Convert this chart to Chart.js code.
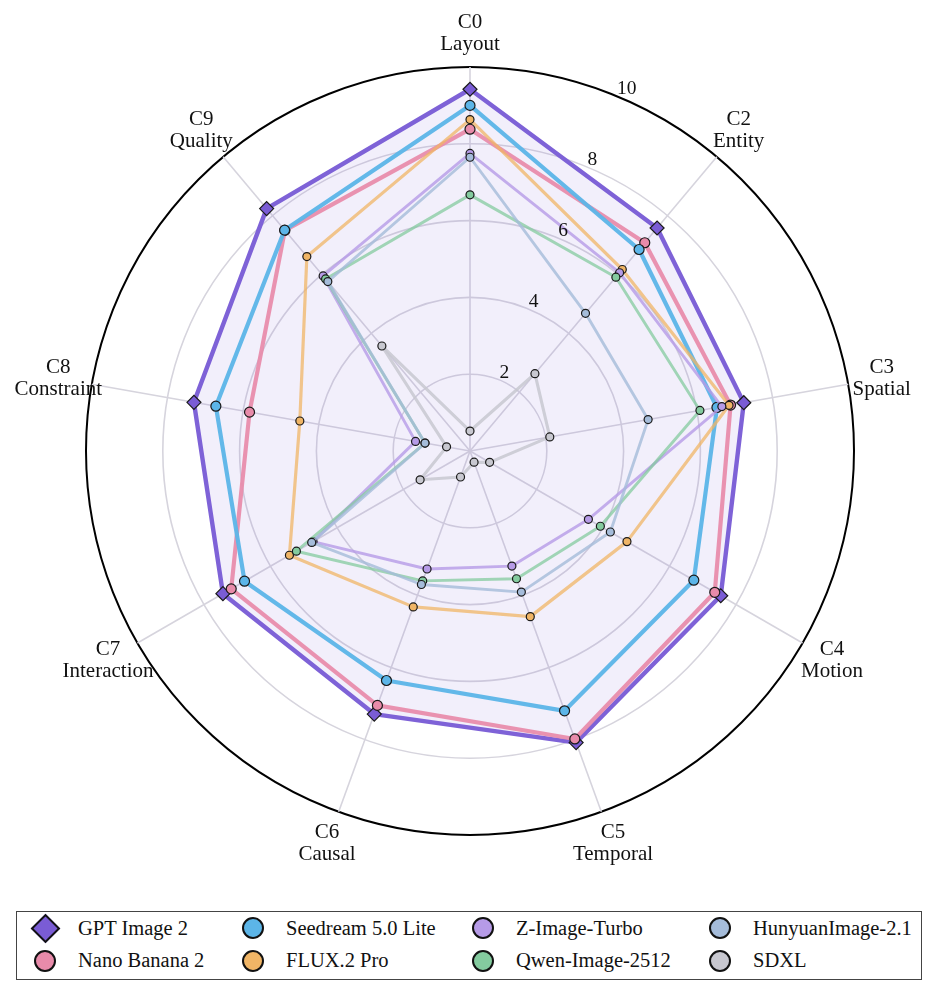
<!DOCTYPE html>
<html>
<head>
<meta charset="utf-8">
<script src="https://cdn.jsdelivr.net/npm/chart.js@4.4.1/dist/chart.umd.min.js"></script>
<style>
  body { margin: 0; background: #fff; font-family: "Liberation Serif", "Times New Roman", serif; }
  #wrap { position: relative; width: 938px; height: 996px; }
  #chart-box { position: absolute; left: 0; top: 0; width: 938px; height: 900px; }
  #legend {
    position: absolute; left: 16px; top: 911px; width: 906px; height: 69px;
    box-sizing: border-box; border: 1.5px solid #444; padding-left: 16px;
    display: grid; grid-auto-flow: column;
    grid-template-rows: repeat(2, 32.5px);
    grid-template-columns: 208px 230px 237px 1fr;
  }
  .item { display: flex; align-items: center; font-size: 20.5px; color: #111; white-space: nowrap; }
  .mk { width: 24px; height: 24px; margin-right: 21px; position: relative; flex: none; }
  .mk span { position: absolute; box-sizing: border-box; border: 2px solid #111; }
  .mk .circle { left: 1px; top: 1px; width: 22px; height: 22px; border-radius: 50%; }
  .mk .diamond { left: 1.5px; top: 1.5px; width: 21px; height: 21px; transform: rotate(45deg); }
</style>
</head>
<body>
<div id="wrap">
  <div id="chart-box"><canvas id="radar"></canvas></div>
  <div id="legend"></div>
</div>
<script>
const categoryCodes = ["C0", "C2", "C3", "C4", "C5", "C6", "C7", "C8", "C9"];
const categoryNames = ["Layout", "Entity", "Spatial", "Motion", "Temporal", "Causal", "Interaction", "Constraint", "Quality"];
const tickValues = [2, 4, 6, 8, 10];

const gptImage2 = [9.42, 7.58, 7.24, 7.54, 8.08, 7.29, 7.43, 7.30, 8.24];
const nanoBanana2 = [8.38, 7.08, 6.89, 7.36, 7.98, 7.05, 7.18, 5.83, 7.50];
const seedream50Lite = [9.00, 6.85, 6.53, 6.73, 7.20, 6.36, 6.78, 6.72, 7.51];
const flux2Pro = [8.63, 6.17, 6.85, 4.72, 4.59, 4.32, 5.43, 4.50, 6.61];
const zImageTurbo = [7.75, 6.06, 6.66, 3.56, 3.19, 3.27, 4.72, 1.44, 5.95];
const qwenImage2512 = [6.67, 5.91, 6.08, 3.92, 3.54, 3.60, 5.22, 1.19, 5.85];
const hunyuanImage21 = [7.65, 4.68, 4.71, 4.22, 3.91, 3.70, 4.76, 1.19, 5.76];
const sdxl = [0.52, 2.63, 2.11, 0.59, 0.31, 0.72, 1.50, 0.62, 3.57];

// legend order (column major), later entries are drawn on top
const models = [
  { name: "GPT Image 2", data: gptImage2, color: "#7a5cd5", line: "#7e62d7", width: 4.4, marker: "rectRot", size: 7, fill: true },
  { name: "Nano Banana 2", data: nanoBanana2, color: "#e88baa", line: "rgba(232,139,170,0.92)", width: 4.2, marker: "circle", size: 5 },
  { name: "Seedream 5.0 Lite", data: seedream50Lite, color: "#5cb5e8", line: "rgba(92,181,232,0.95)", width: 4.2, marker: "circle", size: 5 },
  { name: "FLUX.2 Pro", data: flux2Pro, color: "#f0b566", line: "rgba(240,181,102,0.75)", width: 3.2, marker: "circle", size: 4 },
  { name: "Z-Image-Turbo", data: zImageTurbo, color: "#b69be7", line: "rgba(182,155,231,0.8)", width: 2.9, marker: "circle", size: 4 },
  { name: "Qwen-Image-2512", data: qwenImage2512, color: "#84cb9f", line: "rgba(132,203,159,0.75)", width: 2.9, marker: "circle", size: 4 },
  { name: "HunyuanImage-2.1", data: hunyuanImage21, color: "#a5bcda", line: "rgba(165,188,218,0.8)", width: 2.9, marker: "circle", size: 4 },
  { name: "SDXL", data: sdxl, color: "#c8c8d0", line: "rgba(200,200,208,0.85)", width: 3.1, marker: "circle", size: 4 },
];

const GRID_COLOR = "#d6d4dd";
const FONT = "'Liberation Serif', 'Times New Roman', serif";

const labelsPlugin = {
  id: "polarLabels",
  afterDraw(chart) {
    const s = chart.scales.r;
    const ctx = chart.ctx;
    ctx.save();
    ctx.fillStyle = "#111";

    // category labels, two lines centred outside the rim
    ctx.font = "21px " + FONT;
    ctx.textAlign = "center";
    ctx.textBaseline = "middle";
    categoryCodes.forEach((code, i) => {
      const p = s.getPointPosition(i, s.drawingArea + 34);
      ctx.fillText(code, p.x, p.y - 11);
      ctx.fillText(categoryNames[i], p.x, p.y + 11);
    });

    // radial tick labels along 22.5 deg
    ctx.font = "19.5px " + FONT;
    ctx.textAlign = "left";
    ctx.textBaseline = "alphabetic";
    const ang = -Math.PI / 2 + (22.5 * Math.PI) / 180;
    tickValues.forEach((v) => {
      const d = s.getDistanceFromCenterForValue(v);
      ctx.fillText(String(v), s.xCenter + d * Math.cos(ang), s.yCenter + d * Math.sin(ang) - 2);
    });
    ctx.restore();
  },
};

const datasets = models.map((m, i) => ({
  label: m.name,
  data: m.data,
  order: models.length - i,
  borderColor: m.line,
  borderWidth: m.width,
  borderJoinStyle: "round",
  backgroundColor: m.fill ? "rgba(123,97,212,0.1)" : "transparent",
  fill: m.fill ? "origin" : false,
  pointStyle: m.marker,
  pointRadius: m.size,
  pointHoverRadius: m.size,
  pointBackgroundColor: m.color,
  pointBorderColor: "#1a1a1a",
  pointBorderWidth: 1.2,
  tension: 0,
}));

new Chart(document.getElementById("radar"), {
  type: "radar",
  data: { labels: categoryCodes, datasets },
  options: {
    animation: false,
    responsive: true,
    maintainAspectRatio: false,
    layout: { padding: { left: 86, right: 84, top: 67, bottom: 65 } },
    plugins: { legend: { display: false }, tooltip: { enabled: false } },
    scales: {
      r: {
        min: 0,
        max: 10,
        ticks: { display: false, stepSize: 2 },
        pointLabels: { display: false },
        grid: {
          circular: true,
          color: (c) => (c.tick && c.tick.value === 10 ? "#000" : GRID_COLOR),
          lineWidth: (c) => (c.tick && c.tick.value === 10 ? 2 : 1.6),
        },
        angleLines: { color: GRID_COLOR, lineWidth: 1.6 },
      },
    },
  },
  plugins: [labelsPlugin],
});

function buildLegend() {
  const box = document.getElementById("legend");
  models.forEach((m) => {
    const item = document.createElement("div");
    item.className = "item";
    const mk = document.createElement("div");
    mk.className = "mk";
    const shape = document.createElement("span");
    shape.className = m.marker === "rectRot" ? "diamond" : "circle";
    shape.style.background = m.color;
    mk.appendChild(shape);
    const txt = document.createElement("span");
    txt.textContent = m.name;
    item.appendChild(mk);
    item.appendChild(txt);
    box.appendChild(item);
  });
}

buildLegend();
</script>
</body>
</html>
